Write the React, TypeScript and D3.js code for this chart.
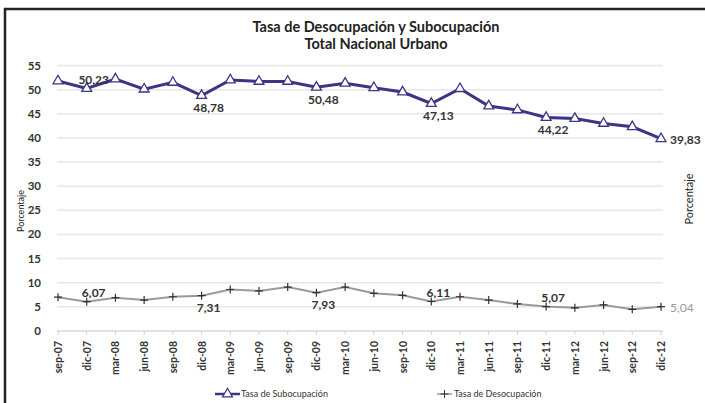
import React, { useEffect, useRef } from 'react';
import * as d3 from 'd3';

// periods (trimestres)
const periods = [
  'sep-07', 'dic-07', 'mar-08', 'jun-08', 'sep-08', 'dic-08', 'mar-09', 'jun-09',
  'sep-09', 'dic-09', 'mar-10', 'jun-10', 'sep-10', 'dic-10', 'mar-11', 'jun-11',
  'sep-11', 'dic-11', 'mar-12', 'jun-12', 'sep-12', 'dic-12',
];

// Tasa de Subocupación
const subocupacion = [
  51.8, 50.23, 52.2, 50.1, 51.5, 48.78, 52.0, 51.7, 51.7, 50.48, 51.3, 50.4,
  49.5, 47.13, 50.2, 46.6, 45.8, 44.22, 44.0, 43.0, 42.3, 39.83,
];

// Tasa de Desocupación
const desocupacion = [
  7.0, 6.07, 6.9, 6.4, 7.1, 7.31, 8.6, 8.3, 9.1, 7.93, 9.1, 7.8,
  7.4, 6.11, 7.1, 6.4, 5.6, 5.07, 4.8, 5.4, 4.5, 5.04,
];

const yTicks = [0, 5, 10, 15, 20, 25, 30, 35, 40, 45, 50, 55];

// labelled points: index, position
const subLabels = [
  { i: 1, pos: 'above' }, { i: 5, pos: 'below' }, { i: 9, pos: 'below' },
  { i: 13, pos: 'below' }, { i: 17, pos: 'below' }, { i: 21, pos: 'right' },
];
const desLabels = [
  { i: 1, pos: 'above' }, { i: 5, pos: 'below' }, { i: 9, pos: 'below' },
  { i: 13, pos: 'above' }, { i: 17, pos: 'above' }, { i: 21, pos: 'right' },
];

const W = 705, H = 403;
const FONT = 'Lato, "Open Sans", sans-serif';
const NAVY = '#3b3585';
const GRAY = '#9a9a9a';

const fmt = (v: number) => v.toFixed(2).replace('.', ',');

const App = () => {
  const ref = useRef<SVGSVGElement>(null);

  useEffect(() => {
    const svg = d3.select(ref.current);
    svg.selectAll('*').remove();

    svg.append('rect').attr('width', W).attr('height', H).attr('fill', '#fff');

    // frame
    svg.append('line').attr('x1', 4).attr('x2', W).attr('y1', 9).attr('y2', 9)
      .attr('stroke', '#222').attr('stroke-width', 2.5);
    svg.append('line').attr('x1', 5).attr('x2', 5).attr('y1', 8).attr('y2', H)
      .attr('stroke', '#222').attr('stroke-width', 2.5);

    const x = d3.scalePoint<string>().domain(periods).range([58, 661]);
    const y = d3.scaleLinear().domain([0, 55]).range([331, 65.5]);

    // title
    const title = svg.append('text').attr('x', 376).attr('text-anchor', 'middle')
      .style('font-family', FONT).style('font-weight', 'bold').style('font-size', '14.5px').attr('fill', '#222');
    title.append('tspan').attr('x', 376).attr('y', 32).text('Tasa de Desocupación y Subocupación');
    title.append('tspan').attr('x', 376).attr('y', 49).text('Total Nacional Urbano');

    // gridlines
    svg.append('g').selectAll('line').data(yTicks.filter((t) => t > 0)).join('line')
      .attr('x1', 57).attr('x2', 663)
      .attr('y1', (d) => y(d)).attr('y2', (d) => y(d))
      .attr('stroke', '#e6e6e6').attr('stroke-width', 1.5);

    // x axis line + ticks
    svg.append('line').attr('x1', 57).attr('x2', 663).attr('y1', y(0)).attr('y2', y(0))
      .attr('stroke', '#d8d8d8').attr('stroke-width', 1.5);
    svg.append('g').selectAll('line').data(periods).join('line')
      .attr('x1', (d) => x(d)!).attr('x2', (d) => x(d)!)
      .attr('y1', y(0)).attr('y2', y(0) + 4)
      .attr('stroke', '#d0d0d0');

    // y tick labels
    svg.append('g').selectAll('text').data(yTicks).join('text')
      .attr('x', 41).attr('y', (d) => y(d)).attr('dy', '0.35em')
      .attr('text-anchor', 'end')
      .style('font-family', FONT).style('font-weight', 'bold').style('font-size', '11.5px').attr('fill', '#333')
      .text((d) => d);

    // x tick labels (rotated)
    svg.append('g').selectAll('text').data(periods).join('text')
      .attr('transform', (d) => `translate(${x(d)! + 4},${y(0) + 10}) rotate(-90)`)
      .attr('text-anchor', 'end')
      .style('font-family', FONT).style('font-weight', 'bold').style('font-size', '10.5px').attr('fill', '#333')
      .text((d) => d);

    // axis titles
    svg.append('text').attr('transform', 'translate(24,211) rotate(-90)').attr('text-anchor', 'middle')
      .style('font-family', FONT).style('font-size', '9px').attr('fill', '#222').text('Porcentaje');
    svg.append('text').attr('transform', 'translate(693,199) rotate(-90)').attr('text-anchor', 'middle')
      .style('font-family', FONT).style('font-size', '11px').attr('fill', '#222').text('Porcentaje');

    const line = d3.line<number>().x((_, i) => x(periods[i])!).y((d) => y(d));

    // Desocupación
    svg.append('path').datum(desocupacion).attr('d', line).attr('fill', 'none')
      .attr('stroke', GRAY).attr('stroke-width', 2);
    svg.append('g').selectAll('path').data(desocupacion).join('path')
      .attr('transform', (d, i) => `translate(${x(periods[i])},${y(d)})`)
      .attr('d', 'M-4,0H4M0,-4V4').attr('stroke', '#333').attr('stroke-width', 1.2);

    // Subocupación
    svg.append('path').datum(subocupacion).attr('d', line).attr('fill', 'none')
      .attr('stroke', NAVY).attr('stroke-width', 3);
    const tri = d3.symbol().type(d3.symbolTriangle).size(42);
    svg.append('g').selectAll('path').data(subocupacion).join('path')
      .attr('transform', (d, i) => `translate(${x(periods[i])},${y(d)})`)
      .attr('d', tri()).attr('fill', '#fff').attr('stroke', NAVY).attr('stroke-width', 1.3);

    // data labels
    const addLabels = (vals: number[], labels: { i: number; pos: string }[]) => {
      labels.forEach(({ i, pos }) => {
        const px = x(periods[i])!;
        const py = y(vals[i]);
        const isLast = pos === 'right';
        const tx = isLast ? px + 9 : px + 7;
        const ty = pos === 'above' ? py - 9 : pos === 'below' ? py + 12 : py + 1;
        svg.append('text').attr('x', tx).attr('y', ty).attr('dy', '0.35em')
          .attr('text-anchor', isLast ? 'start' : 'middle')
          .style('font-family', FONT).style('font-size', '12px')
          .style('font-weight', vals === desocupacion && isLast ? 'normal' : 'bold')
          .attr('fill', vals === desocupacion && isLast ? '#999' : '#333')
          .text(fmt(vals[i]));
      });
    };
    addLabels(subocupacion, subLabels);
    addLabels(desocupacion, desLabels);

    // legend
    const lg = svg.append('g').style('font-family', FONT).style('font-size', '9px').attr('fill', '#333');
    lg.append('line').attr('x1', 215).attr('x2', 240).attr('y1', 394).attr('y2', 394)
      .attr('stroke', NAVY).attr('stroke-width', 2.5);
    lg.append('path').attr('transform', 'translate(227.5,394)').attr('d', tri())
      .attr('fill', '#fff').attr('stroke', NAVY).attr('stroke-width', 1.2);
    lg.append('text').attr('x', 241).attr('y', 394).attr('dy', '0.35em').text('Tasa de Subocupación');

    lg.append('line').attr('x1', 437).attr('x2', 452).attr('y1', 394).attr('y2', 394)
      .attr('stroke', GRAY).attr('stroke-width', 1.5);
    lg.append('path').attr('transform', 'translate(444.5,394)').attr('d', 'M-4,0H4M0,-4V4')
      .attr('stroke', '#333').attr('stroke-width', 1);
    lg.append('text').attr('x', 454).attr('y', 394).attr('dy', '0.35em').text('Tasa de Desocupación');
  }, []);

  return (
    <div style={{ position: 'fixed', left: 0, top: 0 }}>
      <svg ref={ref} width={W} height={H} style={{ display: 'block' }}></svg>
    </div>
  );
};

export default App;
